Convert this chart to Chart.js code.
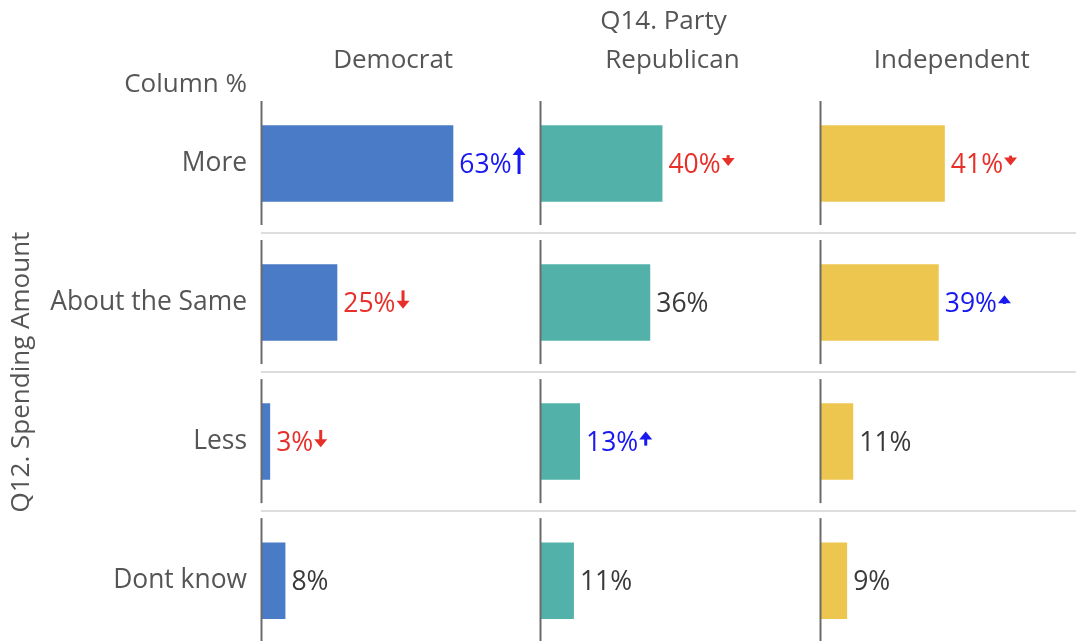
<!DOCTYPE html>
<html>
<head>
<meta charset="utf-8">
<script src="https://cdn.jsdelivr.net/npm/chart.js@4/dist/chart.umd.min.js"></script>
<style>
  html, body { margin: 0; padding: 0; background: #fff; overflow: hidden; }
  #view { position: relative; width: 1076px; height: 641px; overflow: hidden; }
  #box { position: absolute; left: 0; top: 0; width: 1100px; height: 680px; }
</style>
</head>
<body>
<div id="view"><div id="box"><canvas id="myChart"></canvas></div></div>
<script>
// data
var categories = ['More', 'About the Same', 'Less', 'Dont know'];
var panelNames = ['Democrat', 'Republican', 'Independent'];
var democrat    = [63, 25, 3, 8];
var republican  = [40, 36, 13, 11];
var independent = [41, 39, 11, 9];
// signed significance (up > 0, down < 0), arrow length grows with it
var sigDemocrat    = [5.0, -3.4, -3.2, 0];
var sigRepublican  = [-2.0, 0, 2.6, 0];
var sigIndependent = [-1.8, 1.6, 0, 0];

var barColors = ['#4a7bc6', '#52b2aa', '#ecc64f'];
var seriesValues = [democrat, republican, independent];
var seriesSig = [sigDemocrat, sigRepublican, sigIndependent];
var FONT = "'Open Sans', 'Noto Sans', sans-serif";

Chart.defaults.font.family = FONT;

function drawArrow(ctx, x, yc, len, up, color) {
    var head = Math.min(8, len);
    var hw = 6.5;
    var top = yc - len / 2, bot = yc + len / 2;
    ctx.save();
    ctx.fillStyle = color;
    ctx.strokeStyle = color;
    ctx.lineWidth = 3;
    ctx.beginPath();
    if (up) {
        ctx.moveTo(x + hw, bot);
        ctx.lineTo(x + hw, top + head - 1);
        ctx.stroke();
        ctx.beginPath();
        ctx.moveTo(x, top + head);
        ctx.lineTo(x + hw, top);
        ctx.lineTo(x + 2 * hw, top + head);
    } else {
        ctx.moveTo(x + hw, top);
        ctx.lineTo(x + hw, bot - head + 1);
        ctx.stroke();
        ctx.beginPath();
        ctx.moveTo(x, bot - head);
        ctx.lineTo(x + hw, bot);
        ctx.lineTo(x + 2 * hw, bot - head);
    }
    ctx.closePath();
    ctx.fill();
    ctx.restore();
}

var panelPlugin = {
    id: 'panels',
    afterDatasetsDraw: function(chart) {
        var ctx = chart.ctx;
        var yScale = chart.scales.y;
        var step = yScale.getPixelForValue(1) - yScale.getPixelForValue(0);
        ctx.save();

        // axis segments per panel
        ctx.strokeStyle = '#6b6b6b';
        ctx.lineWidth = 2;
        for (var i = 0; i < panelNames.length; i++) {
            var xs = chart.scales['x' + i];
            var x0 = Math.round(xs.getPixelForValue(0)) + 0.5;
            for (var j = 0; j < categories.length; j++) {
                var c = yScale.getPixelForValue(j);
                ctx.beginPath();
                ctx.moveTo(x0, c - step / 2 + 7);
                ctx.lineTo(x0, c + step / 2 - 8);
                ctx.stroke();
            }
        }

        // value labels with arrows
        ctx.font = '26.5px ' + FONT;
        ctx.textAlign = 'left';
        ctx.textBaseline = 'alphabetic';
        for (var i = 0; i < seriesValues.length; i++) {
            var meta = chart.getDatasetMeta(i);
            for (var j = 0; j < meta.data.length; j++) {
                var el = meta.data[j];
                var sig = seriesSig[i][j];
                var color = sig > 0 ? '#1818f0' : (sig < 0 ? '#e8302a' : '#3a3a3a');
                var text = seriesValues[i][j] + '%';
                var tx = el.x + 6;
                ctx.fillStyle = color;
                ctx.fillText(text, tx, el.y + 9);
                if (sig !== 0) {
                    var w = ctx.measureText(text).width;
                    drawArrow(ctx, tx + w + 1, el.y - 3, Math.abs(sig) * 5.4, sig > 0, color);
                }
            }
        }

        // headers
        ctx.font = '26px ' + FONT;
        ctx.fillStyle = '#555';
        ctx.textBaseline = 'middle';
        ctx.textAlign = 'center';
        var first = chart.scales.x0, last = chart.scales['x' + (panelNames.length - 1)];
        for (var i = 0; i < panelNames.length; i++) {
            var xs = chart.scales['x' + i];
            ctx.fillText(panelNames[i], xs.left + xs.width * 0.473, 61);
        }
        var mid = (first.left + first.width * 0.473 + last.left + last.width * 0.473) / 2;
        ctx.fillText('Q14. Party', mid - 9, 22);
        ctx.textAlign = 'right';
        ctx.fillText('Column %', yScale.right - 14, 85);
        ctx.restore();
    }
};

var datasets = [];
var scales = {
    y: {
        type: 'category',
        offset: true,
        grid: {
            offset: true,
            drawTicks: false,
            lineWidth: 2,
            color: function(c) { return c.index === 0 ? 'rgba(0,0,0,0)' : '#dddddd'; }
        },
        border: { display: false },
        ticks: { padding: 14, color: '#555', font: { size: 26.4 } },
        title: {
            display: true,
            text: 'Q12. Spending Amount',
            color: '#555',
            font: { size: 26 },
            padding: { top: 6, bottom: 0 }
        },
        afterFit: function(scale) { scale.width = 261; }
    }
};
for (var i = 0; i < seriesValues.length; i++) {
    datasets.push({
        label: panelNames[i],
        data: seriesValues[i],
        xAxisID: 'x' + i,
        backgroundColor: barColors[i],
        borderWidth: 0,
        grouped: false,
        categoryPercentage: 1,
        barPercentage: 0.55
    });
    scales['x' + i] = {
        type: 'linear',
        min: 0,
        max: 91.5,
        position: 'bottom',
        stack: 'panels',
        stackWeight: 1,
        display: false
    };
}

var ctx = document.getElementById('myChart');
var myChart = new Chart(ctx, {
    type: 'bar',
    data: { labels: categories, datasets: datasets },
    options: {
        indexAxis: 'y',
        responsive: true,
        maintainAspectRatio: false,
        animation: false,
        layout: { padding: { top: 94, bottom: 6, left: 0, right: 1 } },
        scales: scales,
        plugins: {
            legend: { display: false },
            tooltip: { enabled: false }
        }
    },
    plugins: [panelPlugin]
});
</script>
</body>
</html>
